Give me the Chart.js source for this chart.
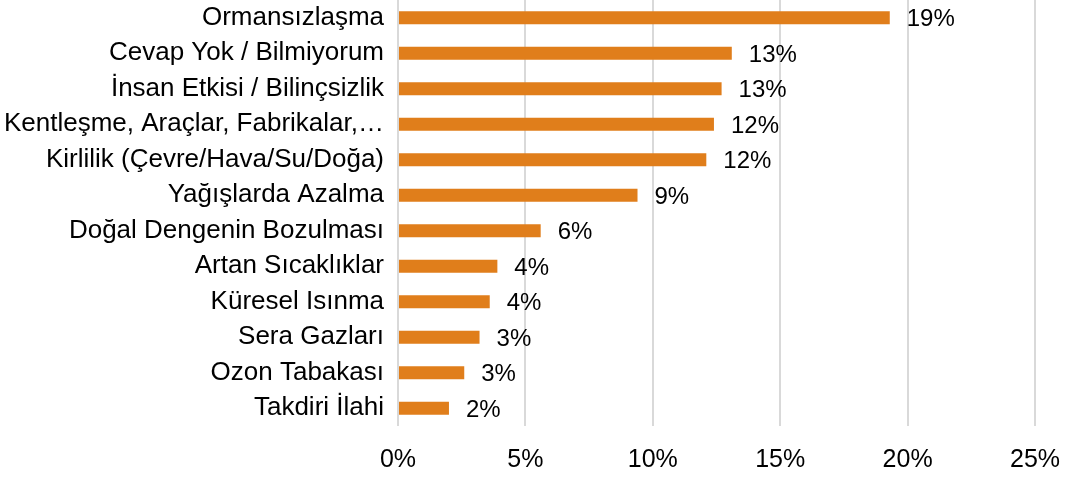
<!DOCTYPE html>
<html>
<head>
<meta charset="utf-8">
<script src="https://cdn.jsdelivr.net/npm/chart.js@4/dist/chart.umd.min.js"></script>
<style>
  html, body { margin: 0; padding: 0; background: #fff; }
  #wrap { width: 1077px; height: 479px; position: relative; }
</style>
</head>
<body>
<div id="wrap"><canvas id="barChart"></canvas></div>
<script>
const categories = [
    'Ormansızlaşma',
    'Cevap Yok / Bilmiyorum',
    'İnsan Etkisi / Bilinçsizlik',
    'Kentleşme, Araçlar, Fabrikalar,…',
    'Kirlilik (Çevre/Hava/Su/Doğa)',
    'Yağışlarda Azalma',
    'Doğal Dengenin Bozulması',
    'Artan Sıcaklıklar',
    'Küresel Isınma',
    'Sera Gazları',
    'Ozon Tabakası',
    'Takdiri İlahi'
];
const shares = [19.3, 13.1, 12.7, 12.4, 12.1, 9.4, 5.6, 3.9, 3.6, 3.2, 2.6, 2.0];
const xTicks = [0, 5, 10, 15, 20, 25];

const FONT = "'Liberation Sans', Arial, sans-serif";
const TEXT = '#000000';

// draws the "19%" style labels at the end of each bar
const valueLabels = {
    id: 'valueLabels',
    afterDatasetsDraw(chart) {
        const ctx = chart.ctx;
        const meta = chart.getDatasetMeta(0);
        ctx.save();
        ctx.font = `24px ${FONT}`;
        ctx.fillStyle = TEXT;
        ctx.textAlign = 'left';
        ctx.textBaseline = 'middle';
        meta.data.forEach((bar, i) => {
            ctx.fillText(Math.round(shares[i]) + '%', bar.x + 17, bar.y + 2);
        });
        ctx.restore();
    }
};

Chart.defaults.font.family = FONT;
Chart.defaults.color = TEXT;

new Chart(document.getElementById('barChart').getContext('2d'), {
    type: 'bar',
    data: {
        labels: categories,
        datasets: [{
            data: shares,
            backgroundColor: '#E07E1B',
            borderWidth: 0,
            barPercentage: 0.37,
            categoryPercentage: 1
        }]
    },
    options: {
        indexAxis: 'y',
        responsive: true,
        maintainAspectRatio: false,
        animation: false,
        layout: { padding: { top: 0, right: 42, bottom: 4, left: 6 } },
        plugins: { legend: { display: false }, tooltip: { enabled: false } },
        scales: {
            x: {
                min: 0,
                max: 25,
                afterBuildTicks: axis => { axis.ticks = xTicks.map(v => ({ value: v })); },
                // keep the axis tight: label gap + one line of text, no side overhang
                afterFit: axis => { axis.height = 49; axis.paddingLeft = 0; axis.paddingRight = 0; },
                ticks: { font: { size: 25 }, color: TEXT, padding: 19, callback: v => v + '%' },
                grid: { color: '#d9d9d9', lineWidth: 2, drawTicks: false },
                border: { display: false }
            },
            y: {
                afterFit: axis => { axis.width = 392; axis.paddingTop = 0; axis.paddingBottom = 0; },
                ticks: { font: { size: 26 }, color: TEXT, padding: 14, autoSkip: false },
                grid: { display: false, drawTicks: false },
                border: { display: false }
            }
        }
    },
    plugins: [valueLabels]
});
</script>
</body>
</html>
